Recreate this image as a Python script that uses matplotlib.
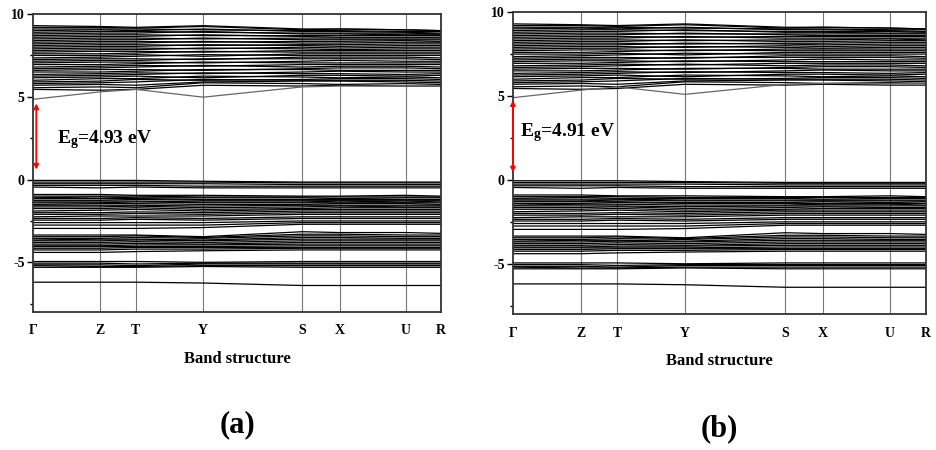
import matplotlib
matplotlib.use("Agg")
import matplotlib.pyplot as plt
from matplotlib.ticker import MultipleLocator

plt.rcParams['font.family'] = ['Liberation Serif', 'DejaVu Serif']
plt.rcParams['font.weight'] = 'bold'
plt.rcParams['axes.unicode_minus'] = False
plt.rcParams['mathtext.fontset'] = 'custom'
plt.rcParams['mathtext.rm'] = 'Liberation Serif:bold'
plt.rcParams['mathtext.it'] = 'Liberation Serif:bold'
plt.rcParams['mathtext.bf'] = 'Liberation Serif:bold'

# k-path (fractional distance along the path)
kpath = [0.0, 0.164, 0.252, 0.417, 0.660, 0.751, 0.913, 1.0]
klabels = ['Γ', 'Z', 'T', 'Y', 'S', 'X', 'U', 'R']

# energies (eV) of each band at Γ Z T Y S X U R
cb_bands = [
    [5.45, 5.40, 5.45, 5.70, 5.65, 5.70, 5.65, 5.65],
    [5.55, 5.60, 5.55, 5.85, 5.80, 5.75, 5.80, 5.75],
    [5.70, 5.75, 5.70, 5.90, 5.95, 5.95, 5.90, 5.85],
    [5.80, 5.85, 5.90, 6.05, 6.00, 6.00, 6.00, 5.95],
    [5.90, 5.95, 6.05, 6.00, 6.05, 6.10, 6.10, 6.05],
    [6.00, 6.10, 6.10, 6.25, 6.20, 6.15, 6.20, 6.15],
    [6.15, 6.20, 6.25, 6.15, 6.30, 6.30, 6.25, 6.30],
    [6.25, 6.30, 6.35, 6.45, 6.40, 6.40, 6.35, 6.40],
    [6.35, 6.40, 6.45, 6.40, 6.50, 6.55, 6.50, 6.50],
    [6.50, 6.50, 6.55, 6.65, 6.65, 6.60, 6.60, 6.60],
    [6.60, 6.65, 6.65, 6.60, 6.70, 6.75, 6.75, 6.70],
    [6.70, 6.75, 6.80, 6.90, 6.80, 6.85, 6.85, 6.80],
    [6.80, 6.85, 6.90, 6.85, 6.95, 6.95, 6.95, 6.95],
    [6.95, 6.95, 7.00, 7.10, 7.05, 7.05, 7.05, 7.05],
    [7.05, 7.10, 7.10, 7.05, 7.15, 7.20, 7.15, 7.15],
    [7.15, 7.20, 7.20, 7.30, 7.30, 7.30, 7.30, 7.25],
    [7.25, 7.30, 7.30, 7.25, 7.40, 7.40, 7.40, 7.35],
    [7.35, 7.40, 7.45, 7.55, 7.50, 7.50, 7.50, 7.50],
    [7.50, 7.50, 7.55, 7.45, 7.60, 7.60, 7.60, 7.60],
    [7.60, 7.60, 7.65, 7.75, 7.70, 7.70, 7.70, 7.70],
    [7.70, 7.75, 7.75, 7.70, 7.80, 7.80, 7.80, 7.80],
    [7.80, 7.85, 7.85, 7.95, 7.90, 7.85, 7.90, 7.90],
    [7.90, 7.95, 7.95, 7.90, 8.00, 7.95, 8.00, 8.00],
    [8.00, 8.05, 8.05, 8.15, 8.10, 8.05, 8.10, 8.10],
    [8.10, 8.15, 8.15, 8.10, 8.15, 8.15, 8.20, 8.20],
    [8.20, 8.25, 8.25, 8.35, 8.25, 8.25, 8.30, 8.30],
    [8.30, 8.35, 8.35, 8.30, 8.35, 8.35, 8.40, 8.35],
    [8.40, 8.45, 8.45, 8.55, 8.45, 8.45, 8.45, 8.45],
    [8.50, 8.55, 8.55, 8.50, 8.55, 8.55, 8.55, 8.55],
    [8.60, 8.65, 8.65, 8.75, 8.65, 8.60, 8.60, 8.60],
    [8.70, 8.75, 8.75, 8.70, 8.70, 8.70, 8.70, 8.70],
    [8.80, 8.85, 8.85, 8.95, 8.80, 8.80, 8.75, 8.75],
    [8.90, 8.95, 8.95, 8.90, 8.85, 8.85, 8.85, 8.80],
    [9.00, 9.05, 9.00, 9.10, 8.95, 8.95, 8.90, 8.85],
    [9.10, 9.10, 9.10, 9.05, 9.00, 9.00, 8.95, 8.95],
    [9.20, 9.20, 9.15, 9.25, 9.05, 9.10, 9.05, 9.00],
    [9.30, 9.25, 9.20, 9.30, 9.10, 9.10, 9.05, 9.00],
]

vb_bands = [
    [-0.05, -0.05, -0.05, -0.10, -0.15, -0.15, -0.15, -0.15],
    [-0.15, -0.15, -0.15, -0.15, -0.20, -0.20, -0.20, -0.20],
    [-0.25, -0.25, -0.25, -0.25, -0.30, -0.30, -0.30, -0.30],
    [-0.35, -0.35, -0.35, -0.40, -0.40, -0.40, -0.40, -0.40],
    [-0.45, -0.50, -0.45, -0.50, -0.50, -0.50, -0.50, -0.50],
    [-0.90, -0.90, -0.95, -0.95, -1.00, -1.00, -0.95, -1.00],
    [-1.00, -1.00, -1.00, -1.05, -1.05, -1.05, -1.05, -1.05],
    [-1.10, -1.05, -1.10, -1.10, -1.10, -1.15, -1.10, -1.10],
    [-1.15, -1.15, -1.15, -1.20, -1.20, -1.20, -1.20, -1.20],
    [-1.25, -1.25, -1.20, -1.25, -1.25, -1.25, -1.25, -1.25],
    [-1.30, -1.30, -1.30, -1.35, -1.35, -1.30, -1.35, -1.30],
    [-1.40, -1.40, -1.35, -1.40, -1.40, -1.40, -1.40, -1.40],
    [-1.50, -1.45, -1.45, -1.50, -1.50, -1.45, -1.45, -1.50],
    [-1.55, -1.55, -1.55, -1.60, -1.55, -1.55, -1.55, -1.55],
    [-1.65, -1.65, -1.60, -1.70, -1.65, -1.60, -1.65, -1.65],
    [-1.75, -1.75, -1.70, -1.80, -1.75, -1.70, -1.70, -1.70],
    [-1.90, -1.85, -1.80, -1.90, -1.80, -1.80, -1.80, -1.80],
    [-2.00, -2.00, -1.95, -2.00, -1.90, -1.90, -1.90, -1.90],
    [-2.10, -2.10, -2.05, -2.10, -2.00, -2.00, -2.00, -2.00],
    [-2.25, -2.20, -2.20, -2.20, -2.10, -2.10, -2.10, -2.10],
    [-2.35, -2.35, -2.30, -2.35, -2.25, -2.25, -2.25, -2.25],
    [-2.45, -2.45, -2.40, -2.45, -2.35, -2.35, -2.35, -2.35],
    [-2.60, -2.60, -2.60, -2.60, -2.50, -2.50, -2.50, -2.50],
    [-2.75, -2.75, -2.75, -2.75, -2.60, -2.60, -2.60, -2.60],
    [-2.95, -2.95, -2.95, -2.90, -2.70, -2.70, -2.70, -2.70],
    [-3.35, -3.35, -3.35, -3.45, -3.15, -3.20, -3.20, -3.25],
    [-3.45, -3.45, -3.40, -3.50, -3.30, -3.30, -3.35, -3.35],
    [-3.55, -3.55, -3.50, -3.55, -3.40, -3.40, -3.45, -3.45],
    [-3.65, -3.60, -3.60, -3.65, -3.50, -3.50, -3.55, -3.55],
    [-3.70, -3.70, -3.65, -3.70, -3.60, -3.60, -3.60, -3.60],
    [-3.80, -3.80, -3.75, -3.80, -3.70, -3.70, -3.70, -3.70],
    [-3.90, -3.90, -3.85, -3.90, -3.80, -3.80, -3.80, -3.80],
    [-4.00, -4.00, -3.95, -3.95, -3.90, -3.90, -3.90, -3.90],
    [-4.05, -4.05, -4.05, -4.05, -4.00, -4.00, -4.00, -4.00],
    [-4.15, -4.15, -4.10, -4.10, -4.10, -4.10, -4.10, -4.10],
    [-4.25, -4.25, -4.20, -4.20, -4.15, -4.15, -4.15, -4.15],
    [-4.40, -4.40, -4.35, -4.30, -4.25, -4.25, -4.25, -4.25],
    [-4.95, -4.95, -4.95, -5.00, -4.95, -4.95, -4.95, -4.95],
    [-5.05, -5.05, -5.10, -5.05, -5.05, -5.05, -5.05, -5.05],
    [-5.15, -5.15, -5.20, -5.10, -5.10, -5.10, -5.10, -5.10],
    [-5.20, -5.25, -5.25, -5.20, -5.20, -5.20, -5.20, -5.20],
    [-5.30, -5.30, -5.30, -5.25, -5.30, -5.30, -5.30, -5.30],
    [-6.20, -6.20, -6.20, -6.25, -6.40, -6.40, -6.40, -6.40],
]

# lowest conduction band differs between the two cases
cbm_a = [4.85, 5.30, 5.45, 4.98, 5.60, 5.65, 5.65, 5.65]
cbm_b = [4.90, 5.35, 5.55, 5.10, 5.70, 5.75, 5.75, 5.75]

gap_a = 4.93
gap_b = 4.91

fig = plt.figure(figsize=(9.36, 4.5), dpi=100)
ax1 = fig.add_axes([0.0353, 0.3067, 0.436, 0.662])
ax2 = fig.add_axes([0.548, 0.302, 0.441, 0.671])


def draw_panel(ax, cbm, gap, arrow_x, arrow_y, txt_x, txt_y, tag):
    for k in kpath[1:-1]:
        ax.axvline(k, color='#777777', lw=0.8, zorder=1)
    for band in cb_bands + vb_bands:
        ax.plot(kpath, band, color='black', lw=0.9, zorder=2)
    ax.plot(kpath, cbm, color='#666666', lw=0.9, zorder=2)

    ax.annotate('', xy=(arrow_x, arrow_y[1]), xytext=(arrow_x, arrow_y[0]),
                arrowprops=dict(arrowstyle='<|-|>', color='red', lw=1.3,
                                mutation_scale=7, shrinkA=0, shrinkB=0))
    ax.text(txt_x, txt_y, 'E$_{\\mathrm{g}}$=%.2f eV' % gap, fontsize=14,
            fontweight='bold', va='center', ha='left')

    ax.set_xlim(0, 1)
    ax.set_ylim(-8, 10)
    ax.set_xticks(kpath)
    ax.set_xticklabels(klabels, fontsize=10, fontweight='bold')
    ax.tick_params(axis='x', length=0, pad=9)
    ax.yaxis.set_major_locator(MultipleLocator(5))
    ax.yaxis.set_minor_locator(MultipleLocator(2.5))
    ax.tick_params(axis='y', which='major', length=4, width=1, labelsize=10, pad=2)
    ax.tick_params(axis='y', which='minor', length=2.5, width=1)
    for lab in ax.get_yticklabels():
        lab.set_fontweight('bold')
    for sp in ax.spines.values():
        sp.set_linewidth(1.3)
        sp.set_color('#333333')
    ax.set_xlabel('Band structure', fontsize=12, fontweight='bold', labelpad=10)
    ax.text(0.5, -0.38, tag, transform=ax.transAxes, ha='center', va='center',
            fontsize=22, fontweight='bold')


draw_panel(ax1, cbm_a, gap_a, 0.008, (0.6, 4.6), 0.058, 2.4, '(a)')
draw_panel(ax2, cbm_b, gap_b, 0.0, (0.45, 4.75), 0.018, 2.8, '(b)')

fig.savefig('out.png', dpi=100)
